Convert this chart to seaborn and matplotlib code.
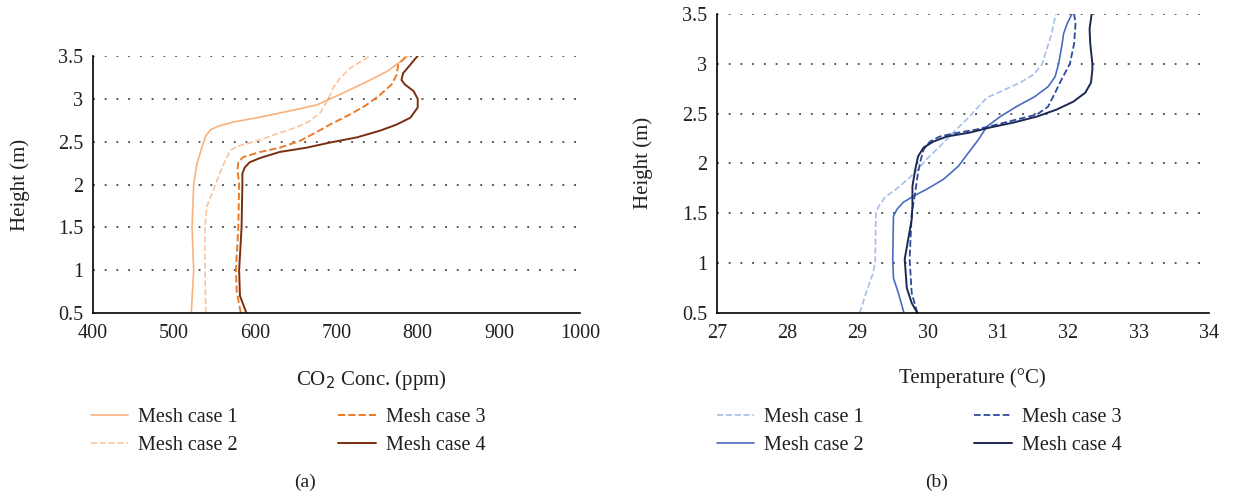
import numpy as np
import pandas as pd
import seaborn as sns
import matplotlib.pyplot as plt
from matplotlib.ticker import FuncFormatter

############################################################## Data

cases = ['Mesh case 1', 'Mesh case 2', 'Mesh case 3', 'Mesh case 4']

# (a) CO2 concentration profiles: height (m) and concentration (ppm)
co2_h1 = [0.5, 1.0, 1.5, 2.0, 2.24, 2.43, 2.57, 2.64, 2.68, 2.73, 2.78, 2.86, 2.93, 3.0, 3.09, 3.2, 3.32, 3.43, 3.5]
co2_v1 = [521, 524, 522, 524, 528, 534, 539, 545, 554, 573, 602, 643, 676, 692, 713, 737, 762, 778, 788]
co2_h2 = [0.5, 1.0, 1.5, 1.74, 1.93, 2.13, 2.28, 2.40, 2.45, 2.51, 2.59, 2.67, 2.74, 2.84, 3.0, 3.13, 3.24,
          3.36, 3.43, 3.5]
co2_v2 = [539, 538, 538, 540, 548, 556, 563, 569, 579, 602, 626, 651, 667, 680, 690, 696, 704, 717, 729, 741]
co2_h3 = [0.5, 0.75, 1.0, 1.5, 2.0, 2.17, 2.26, 2.32, 2.38, 2.43, 2.51, 2.59, 2.70, 2.82, 2.93, 3.05, 3.17,
          3.28, 3.40, 3.5]
co2_v3 = [582, 577, 576, 579, 580, 578, 579, 585, 606, 630, 655, 671, 692, 717, 737, 754, 768, 774, 776, 786]
co2_h4 = [0.5, 0.7, 1.0, 1.5, 2.0, 2.13, 2.20, 2.26, 2.31, 2.38, 2.43, 2.49, 2.55, 2.63, 2.70, 2.78, 2.90,
          3.0, 3.09, 3.17, 3.22, 3.30, 3.40, 3.47, 3.5]
co2_v4 = [589, 581, 580, 583, 584, 584, 587, 593, 606, 630, 663, 692, 725, 754, 774, 791, 800,
          800, 795, 784, 780, 782, 791, 797, 800]

# (b) temperature profiles: height (m) and temperature (C)
t_h1 = [0.5, 0.7, 0.9, 1.0, 1.5, 1.57, 1.66, 1.77, 1.91, 2.04, 2.17, 2.31, 2.44, 2.57, 2.66, 2.72, 2.81,
        2.89, 2.99, 3.1, 3.3, 3.5]
t_v1 = [29.03, 29.12, 29.22, 29.25, 29.26, 29.30, 29.39, 29.60, 29.82, 29.98, 30.17, 30.36, 30.55, 30.72,
        30.84, 31.03, 31.31, 31.50, 31.62, 31.67, 31.76, 31.82]
t_h2 = [0.5, 0.7, 0.85, 1.04, 1.47, 1.54, 1.61, 1.67, 1.74, 1.84, 1.97, 2.11, 2.24, 2.37, 2.47, 2.57, 2.67,
        2.77, 2.87, 3.0, 3.2, 3.3, 3.4, 3.5]
t_v2 = [29.66, 29.58, 29.51, 29.50, 29.51, 29.56, 29.65, 29.79, 29.98, 30.22, 30.43, 30.58, 30.72, 30.84,
        31.03, 31.26, 31.52, 31.71, 31.81, 31.86, 31.91, 31.93, 31.98, 32.05]
t_h3 = [0.5, 0.7, 1.04, 1.5, 1.71, 1.91, 2.04, 2.14, 2.22, 2.27, 2.30, 2.34, 2.39, 2.44, 2.49, 2.57, 2.71,
        2.84, 3.0, 3.2, 3.4, 3.5]
t_v3 = [29.85, 29.77, 29.74, 29.77, 29.82, 29.86, 29.90, 29.94, 30.03, 30.17, 30.36, 30.69, 30.98, 31.26,
        31.55, 31.71, 31.81, 31.90, 32.02, 32.08, 32.10, 32.08]
t_h4 = [0.5, 0.6, 0.75, 1.04, 1.24, 1.44, 1.57, 1.77, 1.94, 2.07, 2.16, 2.22, 2.27, 2.31, 2.36, 2.41, 2.47,
        2.54, 2.62, 2.71, 2.81, 2.94, 3.0, 3.2, 3.35, 3.5]
t_v4 = [29.85, 29.77, 29.70, 29.67, 29.72, 29.77, 29.78, 29.78, 29.82, 29.86, 29.94, 30.08, 30.27, 30.60,
        30.88, 31.22, 31.55, 31.83, 32.07, 32.24, 32.32, 32.34, 32.34, 32.31, 32.30, 32.33]

orange_colors = ['#F9B27C', '#FBC39C', '#EE7A26', '#7A2E10']
blue_colors = ['#A9BDEB', '#4A6CBF', '#2D4C9E', '#1D2853']
dash_styles = ['-', '--', '--', '-']
blue_dash_styles = ['--', '-', '--', '-']

############################################################## Plot

sns.set_style('white')
plt.rcParams['font.family'] = ['Liberation Serif', 'DejaVu Serif']
txt = '#231F20'

fig = plt.figure(figsize=(12.52, 4.96), dpi=100)
ax1 = fig.add_axes([0.0743, 0.369, 0.3890, 0.518])
ax2 = fig.add_axes([0.5727, 0.369, 0.3930, 0.603])


def profile(ax, heights, values, colors, styles, widths):
    for i, name in enumerate(cases):
        d = pd.DataFrame({'v': values[i], 'h': heights[i]})
        sns.lineplot(data=d, x='v', y='h', orient='y', sort=False, ax=ax, color=colors[i],
                     linestyle=styles[i], linewidth=widths[i], label=name)


def style_axes(ax, xlim, xticks, xlabel, xlab_pos):
    ax.set_xlim(*xlim)
    ax.set_ylim(0.5, 3.5)
    ax.set_xticks(xticks)
    ax.set_yticks(np.arange(0.5, 3.51, 0.5))
    fmt = FuncFormatter(lambda v, p: '{:g}'.format(v))
    ax.yaxis.set_major_formatter(fmt)
    ax.xaxis.set_major_formatter(fmt)
    ax.grid(False)
    for y in np.arange(1.0, 3.51, 0.5):
        ax.axhline(y, color='#444444', linestyle=(0, (1, 5.5)), linewidth=1.3, zorder=0)
    for s in ['top', 'right']:
        ax.spines[s].set_visible(False)
    for s in ['left', 'bottom']:
        ax.spines[s].set_color('black')
        ax.spines[s].set_linewidth(1.2)
    ax.tick_params(axis='both', length=0, labelsize=14.5, colors=txt)
    ax.tick_params(axis='x', pad=8)
    ax.tick_params(axis='y', pad=7)
    ax.set_ylabel('Height (m)', fontsize=15, color=txt)
    ax.set_xlabel(xlabel, fontsize=15, color=txt)
    ax.xaxis.set_label_coords(xlab_pos, -0.213 * 0.518 / ax.get_position().height)
    ax.yaxis.set_label_coords(-0.13, 0.5)


profile(ax1, [co2_h1, co2_h2, co2_h3, co2_h4], [co2_v1, co2_v2, co2_v3, co2_v4],
        orange_colors, dash_styles, [1.2, 1.2, 1.4, 1.4])
profile(ax2, [t_h1, t_h2, t_h3, t_h4], [t_v1, t_v2, t_v3, t_v4],
        blue_colors, blue_dash_styles, [1.2, 1.2, 1.3, 1.4])

style_axes(ax1, (400, 1000), range(400, 1001, 100), 'CO$_2$ Conc. (ppm)', 0.571)
style_axes(ax2, (27, 34), range(27, 35), 'Temperature (°C)', 0.518)

for ax, x0, cs in [(ax1, 0.0644, 5.0), (ax2, 0.5644, 5.5)]:
    ax.legend(loc='upper left', bbox_to_anchor=(x0, 0.198), bbox_transform=fig.transFigure,
              ncol=2, frameon=False, fontsize=14.5, handlelength=1.85, handletextpad=0.5,
              columnspacing=cs, labelspacing=0.45, borderpad=0, labelcolor=txt)

fig.text(0.244, 0.018, '(a)', ha='center', fontsize=14, color=txt)
fig.text(0.748, 0.018, '(b)', ha='center', fontsize=14, color=txt)

fig.savefig('out.png', dpi=100)
